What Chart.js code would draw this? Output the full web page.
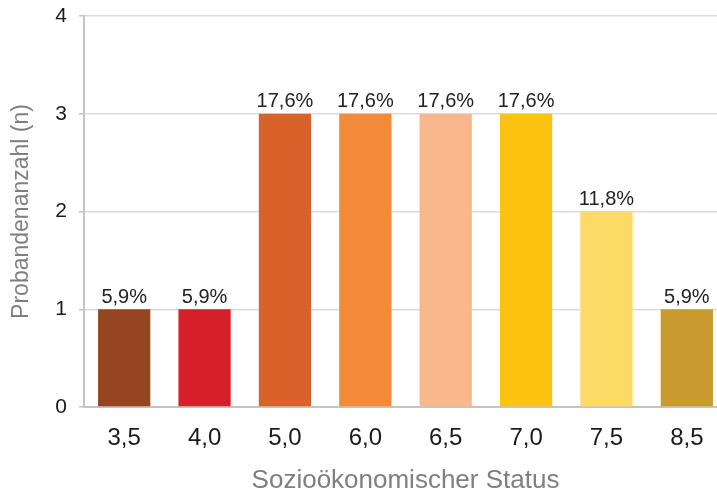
<!DOCTYPE html>
<html>
<head>
<meta charset="utf-8">
<script src="https://cdn.jsdelivr.net/npm/chart.js@4"></script>
<style>
  html, body { margin: 0; padding: 0; background: #fff; overflow: hidden; }
  #wrap { width: 717px; height: 497px; overflow: hidden; }
  #box { width: 727px; height: 497px; }
</style>
</head>
<body>
<div id="wrap"><div id="box"><canvas id="chart"></canvas></div></div>
<script>
const categories = ['3,5', '4,0', '5,0', '6,0', '6,5', '7,0', '7,5', '8,5'];
const counts = [1, 1, 3, 3, 3, 3, 2, 1];
const percentLabels = ['5,9%', '5,9%', '17,6%', '17,6%', '17,6%', '17,6%', '11,8%', '5,9%'];
const barColors = ['#954520', '#d52029', '#d9622b', '#f28a38', '#f8b88b', '#fcc410', '#fdd966', '#c99a2e'];
const yTicks = [0, 1, 2, 3, 4];

const FONT = '"Liberation Sans", Arial, sans-serif';

// percent labels above each bar
const barLabels = {
    id: 'barLabels',
    afterDatasetsDraw(chart) {
        const ctx = chart.ctx;
        const meta = chart.getDatasetMeta(0);
        ctx.save();
        ctx.font = '20px ' + FONT;
        ctx.fillStyle = '#222';
        ctx.textAlign = 'center';
        ctx.textBaseline = 'bottom';
        meta.data.forEach((bar, i) => {
            ctx.fillText(percentLabels[i], bar.x, bar.y - 2);
        });
        ctx.restore();
    }
};

new Chart(document.getElementById('chart'), {
    type: 'bar',
    data: {
        labels: categories,
        datasets: [{
            data: counts,
            backgroundColor: barColors,
            borderWidth: 0,
            barPercentage: 0.65,
            categoryPercentage: 1,
        }],
    },
    options: {
        responsive: true,
        maintainAspectRatio: false,
        animation: false,
        layout: { padding: { top: 16, left: 0, right: 0, bottom: 0 } },
        plugins: { legend: { display: false }, tooltip: { enabled: false } },
        scales: {
            x: {
                grid: { display: false, drawTicks: false },
                border: { display: true, color: '#c4c4c4', width: 2 },
                ticks: {
                    padding: 17,
                    color: '#1a1a1a',
                    font: { family: FONT, size: 24 },
                },
                title: {
                    display: true,
                    text: 'Sozioökonomischer Status',
                    color: '#7f7f7f',
                    font: { family: FONT, size: 26 },
                    padding: { top: 2, bottom: 1 },
                },
                afterFit(scale) { scale.height = 90; },
            },
            y: {
                min: 0,
                max: 4,
                afterBuildTicks(scale) { scale.ticks = yTicks.map(v => ({ value: v })); },
                grid: { color: '#dcdcdc', lineWidth: 1.5, tickLength: 5, tickColor: '#c4c4c4' },
                border: { display: true, color: '#c4c4c4', width: 2 },
                ticks: {
                    padding: 12,
                    color: '#1a1a1a',
                    font: { family: FONT, size: 21 },
                },
                title: {
                    display: true,
                    text: 'Probandenanzahl (n)',
                    color: '#7f7f7f',
                    font: { family: FONT, size: 23 },
                    padding: { top: 8, bottom: 0 },
                },
                afterFit(scale) {
                    scale.width = 84;
                    scale.paddingTop = 0;
                    scale.paddingBottom = 0;
                },
            },
        },
    },
    plugins: [barLabels],
});
</script>
</body>
</html>
